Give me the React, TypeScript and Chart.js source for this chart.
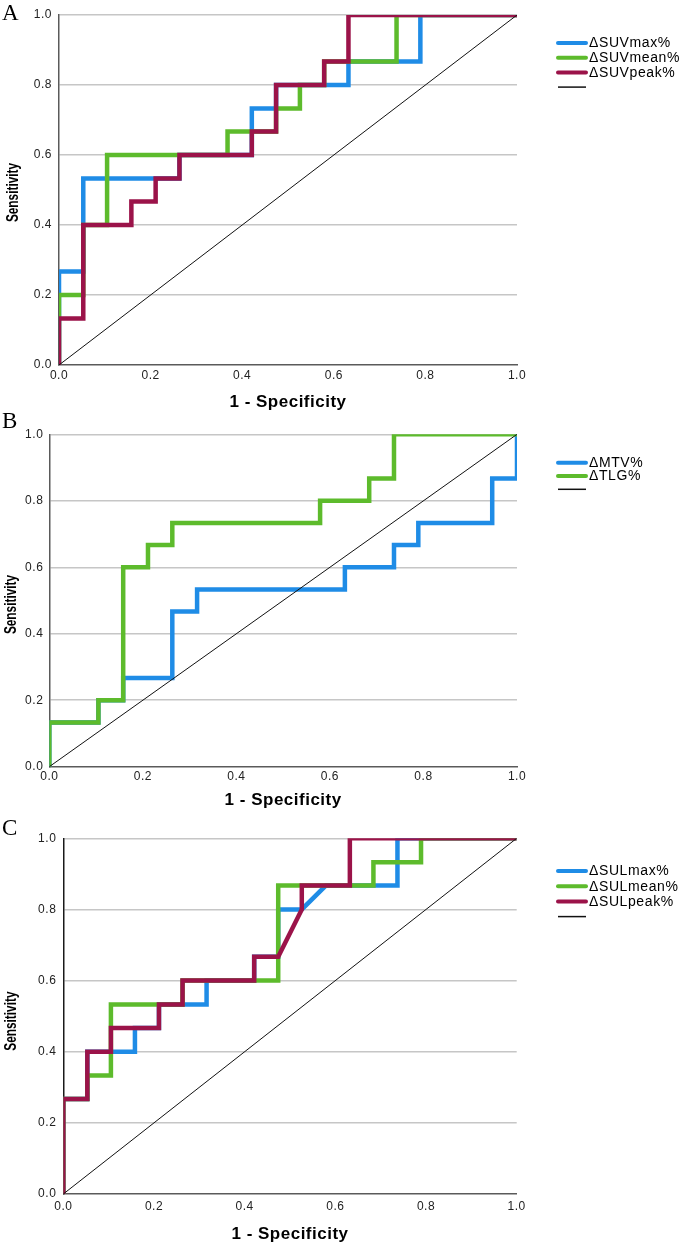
import React, { useEffect, useRef } from 'react';
import { Chart, registerables } from 'chart.js';

Chart.register(...registerables);

// ---------- shared axis data ----------
const axisTicks = [0, 0.2, 0.4, 0.6, 0.8, 1.0];
const xAxisTitle = '1 - Specificity';
const yAxisTitle = 'Sensitivity';
const refX = [0, 1];
const refY = [0, 1];

// ---------- Panel A ----------
const aLabels = ['ΔSUVmax%', 'ΔSUVmean%', 'ΔSUVpeak%'];
const aSuvMaxX = [0, 0, 0.053, 0.053, 0.263, 0.263, 0.421, 0.421, 0.474, 0.474, 0.632, 0.632, 0.789, 0.789, 1];
const aSuvMaxY = [0, 0.267, 0.267, 0.533, 0.533, 0.6, 0.6, 0.733, 0.733, 0.8, 0.8, 0.867, 0.867, 1, 1];
const aSuvMeanX = [0, 0, 0.053, 0.053, 0.105, 0.105, 0.368, 0.368, 0.474, 0.474, 0.526, 0.526, 0.579, 0.579, 0.737, 0.737, 1];
const aSuvMeanY = [0, 0.2, 0.2, 0.4, 0.4, 0.6, 0.6, 0.667, 0.667, 0.733, 0.733, 0.8, 0.8, 0.867, 0.867, 1, 1];
const aSuvPeakX = [0, 0, 0.053, 0.053, 0.158, 0.158, 0.211, 0.211, 0.263, 0.263, 0.421, 0.421, 0.474, 0.474, 0.579, 0.579, 0.632, 0.632, 1];
const aSuvPeakY = [0, 0.133, 0.133, 0.4, 0.4, 0.467, 0.467, 0.533, 0.533, 0.6, 0.6, 0.667, 0.667, 0.8, 0.8, 0.867, 0.867, 1, 1];

// ---------- Panel B ----------
const bLabels = ['ΔMTV%', 'ΔTLG%'];
const bMtvX = [0, 0, 0.105, 0.105, 0.158, 0.158, 0.263, 0.263, 0.316, 0.316, 0.632, 0.632, 0.737, 0.737, 0.789, 0.789, 0.947, 0.947, 1, 1];
const bMtvY = [0, 0.133, 0.133, 0.2, 0.2, 0.267, 0.267, 0.467, 0.467, 0.533, 0.533, 0.6, 0.6, 0.667, 0.667, 0.733, 0.733, 0.867, 0.867, 1];
const bTlgX = [0, 0, 0.105, 0.105, 0.158, 0.158, 0.211, 0.211, 0.263, 0.263, 0.579, 0.579, 0.684, 0.684, 0.737, 0.737, 1];
const bTlgY = [0, 0.133, 0.133, 0.2, 0.2, 0.6, 0.6, 0.667, 0.667, 0.733, 0.733, 0.8, 0.8, 0.867, 0.867, 1, 1];

// ---------- Panel C ----------
const cLabels = ['ΔSULmax%', 'ΔSULmean%', 'ΔSULpeak%'];
const cSulMaxX = [0, 0, 0.053, 0.053, 0.158, 0.158, 0.211, 0.211, 0.316, 0.316, 0.421, 0.421, 0.474, 0.474, 0.526, 0.579, 0.737, 0.737, 1];
const cSulMaxY = [0, 0.267, 0.267, 0.4, 0.4, 0.467, 0.467, 0.533, 0.533, 0.6, 0.6, 0.667, 0.667, 0.8, 0.8, 0.867, 0.867, 1, 1];
const cSulMeanX = [0, 0, 0.053, 0.053, 0.105, 0.105, 0.263, 0.263, 0.474, 0.474, 0.684, 0.684, 0.789, 0.789, 1];
const cSulMeanY = [0, 0.267, 0.267, 0.333, 0.333, 0.533, 0.533, 0.6, 0.6, 0.867, 0.867, 0.933, 0.933, 1, 1];
const cSulPeakX = [0, 0, 0.053, 0.053, 0.105, 0.105, 0.211, 0.211, 0.263, 0.263, 0.421, 0.421, 0.474, 0.526, 0.526, 0.632, 0.632, 1];
const cSulPeakY = [0, 0.267, 0.267, 0.4, 0.4, 0.467, 0.467, 0.533, 0.533, 0.6, 0.6, 0.667, 0.667, 0.8, 0.867, 0.867, 1, 1];

// ---------- styling ----------
const BLUE = '#1f8ce6';
const GREEN = '#5dbb2c';
const MAROON = '#9b1349';
const REF = '#111111';
const FONT = '"Liberation Sans", Arial, Helvetica, sans-serif';

const zip = (xs: number[], ys: number[]) => xs.map((x, i) => ({ x, y: ys[i] }));

// slightly spaced text like the original export
const textSpacing = {
  id: 'textSpacing',
  beforeDraw(chart: any) {
    (chart.ctx as any).letterSpacing = '0.5px';
  },
};

// condensed, rotated y-axis title
const yTitle = {
  id: 'yTitle',
  afterDraw(chart: any, _args: any, opts: any) {
    const ctx = chart.ctx as CanvasRenderingContext2D;
    const area = chart.chartArea;
    ctx.save();
    (ctx as any).letterSpacing = '0px';
    ctx.translate(opts.x, (area.top + area.bottom) / 2 + opts.dy);
    ctx.rotate(-Math.PI / 2);
    ctx.scale(0.74, 1);
    ctx.fillStyle = '#000';
    ctx.font = 'bold 16px ' + FONT;
    ctx.textAlign = 'center';
    ctx.textBaseline = 'middle';
    ctx.fillText(opts.text, 0, 0);
    ctx.restore();
  },
};

const rocLegend = {
  id: 'rocLegend',
  afterDraw(chart: any, _args: any, opts: any) {
    const ctx = chart.ctx as CanvasRenderingContext2D;
    ctx.save();
    chart.data.datasets.forEach((ds: any, i: number) => {
      const y = opts.y + i * opts.gap;
      ctx.beginPath();
      ctx.strokeStyle = ds.borderColor;
      if (ds.label) {
        ctx.lineWidth = 4;
        ctx.lineCap = 'round';
      } else {
        ctx.lineWidth = 1.5;
        ctx.lineCap = 'butt';
      }
      ctx.moveTo(558, y);
      ctx.lineTo(586, y);
      ctx.stroke();
      if (ds.label) {
        ctx.fillStyle = '#000';
        ctx.font = '14px ' + FONT;
        (ctx as any).letterSpacing = '0.6px';
        ctx.textBaseline = 'middle';
        ctx.textAlign = 'left';
        ctx.fillText(ds.label, 589, y + 0.5);
      }
    });
    ctx.restore();
  },
};

type Series = { label: string; xs: number[]; ys: number[]; color: string; order: number };

type PanelCfg = {
  top: number;
  height: number;
  yAxisWidth: number;
  padTop: number;
  padRight: number;
  xAxisHeight: number;
  padBottom: number;
  xTickPad: number;
  yTickPad: number;
  yTitleX: number;
  yTitleDy: number;
  yBorderColor: string;
  legendY: number;
  legendGap: number;
  series: Series[];
};

function RocPanel({ cfg }: { cfg: PanelCfg }) {
  const ref = useRef<HTMLCanvasElement>(null);
  useEffect(() => {
    const datasets: any[] = cfg.series.map((s) => ({
      label: s.label,
      data: zip(s.xs, s.ys),
      borderColor: s.color,
      backgroundColor: s.color,
      borderWidth: 4.5,
      borderJoinStyle: 'miter',
      borderCapStyle: 'butt',
      showLine: true,
      pointRadius: 0,
      pointHoverRadius: 0,
      tension: 0,
      order: s.order,
    }));
    datasets.push({
      label: '',
      data: zip(refX, refY),
      borderColor: REF,
      backgroundColor: REF,
      borderWidth: 1,
      showLine: true,
      pointRadius: 0,
      pointHoverRadius: 0,
      order: 0,
    });
    const tickCb = (v: any) => Number(v).toFixed(1);
    const setTicks = (scale: any) => {
      scale.ticks = axisTicks.map((v) => ({ value: v }));
    };
    const chart = new Chart(ref.current!, {
      type: 'scatter',
      data: { datasets },
      plugins: [textSpacing, yTitle, rocLegend],
      options: {
        animation: false,
        responsive: false,
        devicePixelRatio: 1,
        events: [],
        layout: {
          padding: { top: cfg.padTop, right: cfg.padRight, bottom: cfg.padBottom, left: 0 },
        },
        plugins: {
          legend: { display: false },
          tooltip: { enabled: false },
          rocLegend: { y: cfg.legendY, gap: cfg.legendGap },
          yTitle: { text: yAxisTitle, x: cfg.yTitleX, dy: cfg.yTitleDy },
        } as any,
        scales: {
          x: {
            type: 'linear',
            min: 0,
            max: 1,
            afterBuildTicks: setTicks,
            afterFit: (s: any) => {
              s.height = cfg.xAxisHeight;
            },
            grid: { display: false, drawTicks: false },
            border: { display: true, color: '#5a5a5a', width: 1.5 },
            ticks: {
              callback: tickCb,
              padding: cfg.xTickPad,
              color: '#222',
              font: { family: FONT, size: 12 },
              maxRotation: 0,
            },
            title: {
              display: true,
              text: xAxisTitle,
              color: '#000',
              font: { family: FONT, size: 17, weight: 'bold' },
              padding: { top: 0, bottom: 0 },
            },
          },
          y: {
            type: 'linear',
            min: 0,
            max: 1,
            afterBuildTicks: setTicks,
            afterFit: (s: any) => {
              s.width = cfg.yAxisWidth;
            },
            grid: {
              drawTicks: false,
              color: (c: any) => (c.tick && c.tick.value === 0 ? 'rgba(0,0,0,0)' : '#c6c6c6'),
              lineWidth: 1.5,
            },
            border: { display: true, color: cfg.yBorderColor, width: 1.5 },
            ticks: {
              callback: tickCb,
              padding: cfg.yTickPad,
              color: '#222',
              font: { family: FONT, size: 12 },
            },
            title: { display: false },
          },
        },
      } as any,
    });
    return () => chart.destroy();
  }, []);
  return (
    <div style={{ position: 'absolute', left: 0, top: cfg.top, width: 685, height: cfg.height }}>
      <canvas ref={ref} width={685} height={cfg.height} style={{ display: 'block' }} />
    </div>
  );
}

const panelA: PanelCfg = {
  top: 0,
  height: 415,
  yAxisWidth: 59,
  padTop: 15,
  padRight: 168,
  xAxisHeight: 48,
  padBottom: 2,
  xTickPad: 3,
  yTickPad: 7,
  yTitleX: 13.5,
  yTitleDy: 2.5,
  yBorderColor: '#5a5a5a',
  legendY: 43,
  legendGap: 14.7,
  series: [
    { label: aLabels[0], xs: aSuvMaxX, ys: aSuvMaxY, color: BLUE, order: 3 },
    { label: aLabels[1], xs: aSuvMeanX, ys: aSuvMeanY, color: GREEN, order: 2 },
    { label: aLabels[2], xs: aSuvPeakX, ys: aSuvPeakY, color: MAROON, order: 1 },
  ],
};

const panelB: PanelCfg = {
  top: 415,
  height: 400,
  yAxisWidth: 49.3,
  padTop: 19.3,
  padRight: 168,
  xAxisHeight: 43.5,
  padBottom: 4.8,
  xTickPad: 3,
  yTickPad: 6,
  yTitleX: 11.7,
  yTitleDy: 4,
  yBorderColor: '#5a5a5a',
  legendY: 47.7,
  legendGap: 13.3,
  series: [
    { label: bLabels[0], xs: bMtvX, ys: bMtvY, color: BLUE, order: 3 },
    { label: bLabels[1], xs: bTlgX, ys: bTlgY, color: GREEN, order: 2 },
  ],
};

const panelC: PanelCfg = {
  top: 815,
  height: 430,
  yAxisWidth: 63.3,
  padTop: 23.3,
  padRight: 168.3,
  xAxisHeight: 50.2,
  padBottom: 0.8,
  xTickPad: 5.5,
  yTickPad: 7,
  yTitleX: 11.7,
  yTitleDy: 5,
  yBorderColor: '#1a1a1a',
  legendY: 56,
  legendGap: 15.2,
  series: [
    { label: cLabels[0], xs: cSulMaxX, ys: cSulMaxY, color: BLUE, order: 3 },
    { label: cLabels[1], xs: cSulMeanX, ys: cSulMeanY, color: GREEN, order: 2 },
    { label: cLabels[2], xs: cSulPeakX, ys: cSulPeakY, color: MAROON, order: 1 },
  ],
};

const letterStyle = (top: number): React.CSSProperties => ({
  position: 'absolute',
  left: 2,
  top,
  fontFamily: '"Liberation Serif", "Times New Roman", serif',
  fontSize: 23,
  lineHeight: '23px',
  color: '#000',
});

export default function App() {
  return (
    <div style={{ position: 'absolute', left: 0, top: 0, width: 685, height: 1245, background: '#fff', overflow: 'hidden' }}>
      <RocPanel cfg={panelA} />
      <RocPanel cfg={panelB} />
      <RocPanel cfg={panelC} />
      <div style={letterStyle(1)}>A</div>
      <div style={letterStyle(409)}>B</div>
      <div style={letterStyle(816)}>C</div>
    </div>
  );
}
